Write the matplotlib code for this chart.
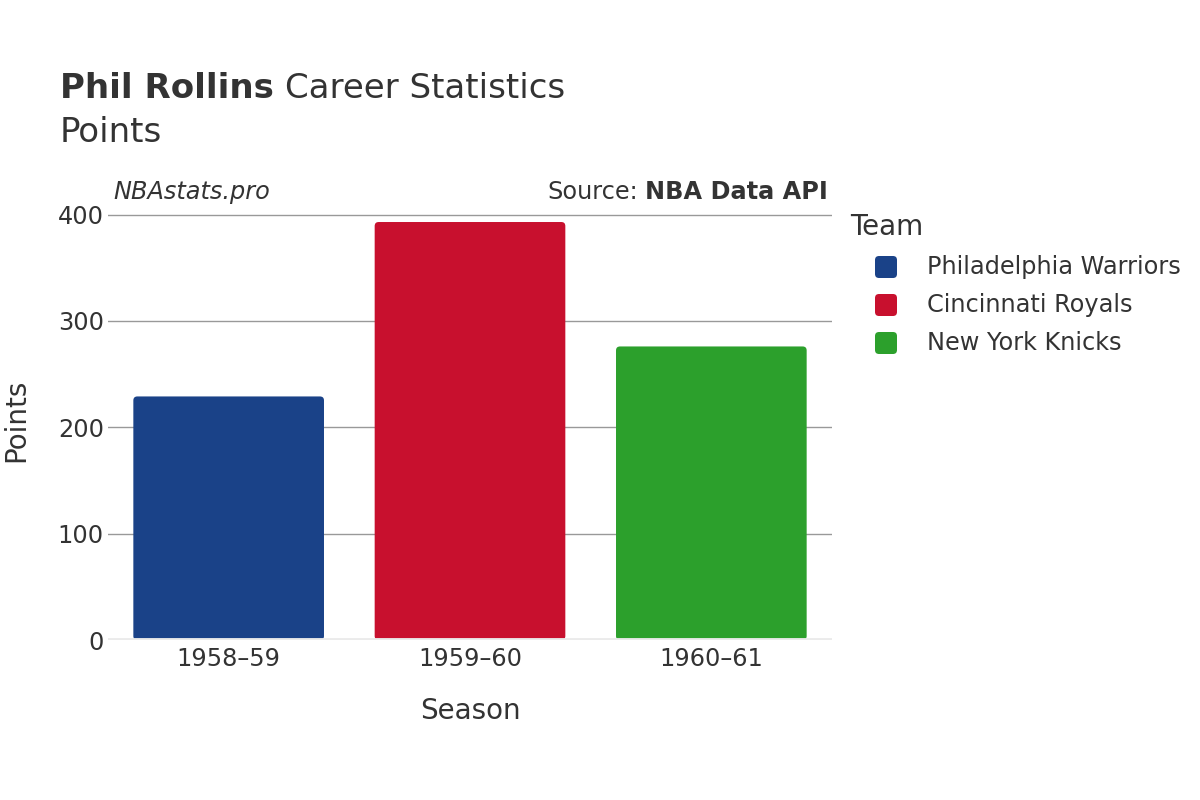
import matplotlib.pyplot as plt
from matplotlib.patches import FancyBboxPatch

seasons = ['1958–59', '1959–60', '1960–61']
teams = ['Philadelphia Warriors', 'Cincinnati Royals', 'New York Knicks']
points = [229, 393, 276]
colors = ['#1a4288', '#c8102e', '#2ca02c']

txt = '#333333'
W, H = 1200, 800
plt.rcParams['font.family'] = ['DejaVu Sans']

fig = plt.figure(figsize=(12, 8), dpi=100)
# plot area in pixels: x 108..832, y 200..640 from the top
ax = fig.add_axes([108 / W, 160 / H, 724 / W, 440 / H])

ymax = 413.7
ax.set_xlim(-0.5, 2.5)
ax.set_ylim(0, ymax)

# rounded bar tops
px_x = 724 / 3.0
px_y = 440 / ymax
r = 4 / px_x
w = 0.79
for i, (v, c) in enumerate(zip(points, colors)):
    box = FancyBboxPatch((i - w / 2, 0), w, v,
                         boxstyle='round,pad=0,rounding_size=%f' % r,
                         mutation_aspect=px_x / px_y, facecolor=c, edgecolor='none', zorder=2)
    ax.add_patch(box)

for yv in [100, 200, 300, 400]:
    ax.axhline(yv, color='#999999', lw=1, zorder=1)
ax.axhline(0, color='#ebebeb', lw=3.5, zorder=3)

for s in ax.spines.values():
    s.set_visible(False)
ax.set_xticks(range(len(seasons)))
ax.set_xticklabels(seasons)
ax.set_yticks([0, 100, 200, 300, 400])
ax.tick_params(axis='both', length=0, labelsize=17.3, colors=txt)
ax.tick_params(axis='y', pad=3)
ax.tick_params(axis='x', pad=5)
ax.set_xlabel('Season', fontsize=20, color=txt, labelpad=19)
ax.set_ylabel('Points', fontsize=20, color=txt, labelpad=20)

# titles
t1 = fig.text(60 / W, 1 - 88 / H, 'Phil Rollins', fontsize=24.5, color=txt, va='center', fontweight='bold')
fig.canvas.draw()
bb = t1.get_window_extent()
fig.text(bb.x1 / W + 0.009, 1 - 88 / H, 'Career Statistics', fontsize=24.5, color=txt, va='center')
fig.text(60 / W, 1 - 132 / H, 'Points', fontsize=24.5, color=txt, va='center')

fig.text(113 / W, 1 - 192 / H, 'NBAstats.pro', fontsize=17.3, color=txt, style='italic', va='center')
src = fig.text(828 / W, 1 - 192 / H, 'NBA Data API', fontsize=17.3, color=txt, va='center',
               ha='right', fontweight='bold')
fig.canvas.draw()
sb = src.get_window_extent()
fig.text(sb.x0 / W - 0.006, 1 - 192 / H, 'Source:', fontsize=17.3, color=txt, va='center', ha='right')

# legend
fig.text(850 / W, 1 - 227 / H, 'Team', fontsize=20, color=txt, va='center')
sz = 22
for k, (name, c) in enumerate(zip(teams, colors)):
    yc = 267 + 38 * k
    mk = FancyBboxPatch(((886 - sz / 2) / W, 1 - (yc + sz / 2) / H), sz / W, sz / H,
                        boxstyle='round,pad=0,rounding_size=%f' % (4 / W),
                        mutation_aspect=W / H, transform=fig.transFigure,
                        facecolor=c, edgecolor='none')
    fig.patches.append(mk)
    fig.text(927 / W, 1 - yc / H, name, fontsize=17.3, color=txt, va='center')

fig.savefig('out.png', dpi=100)
